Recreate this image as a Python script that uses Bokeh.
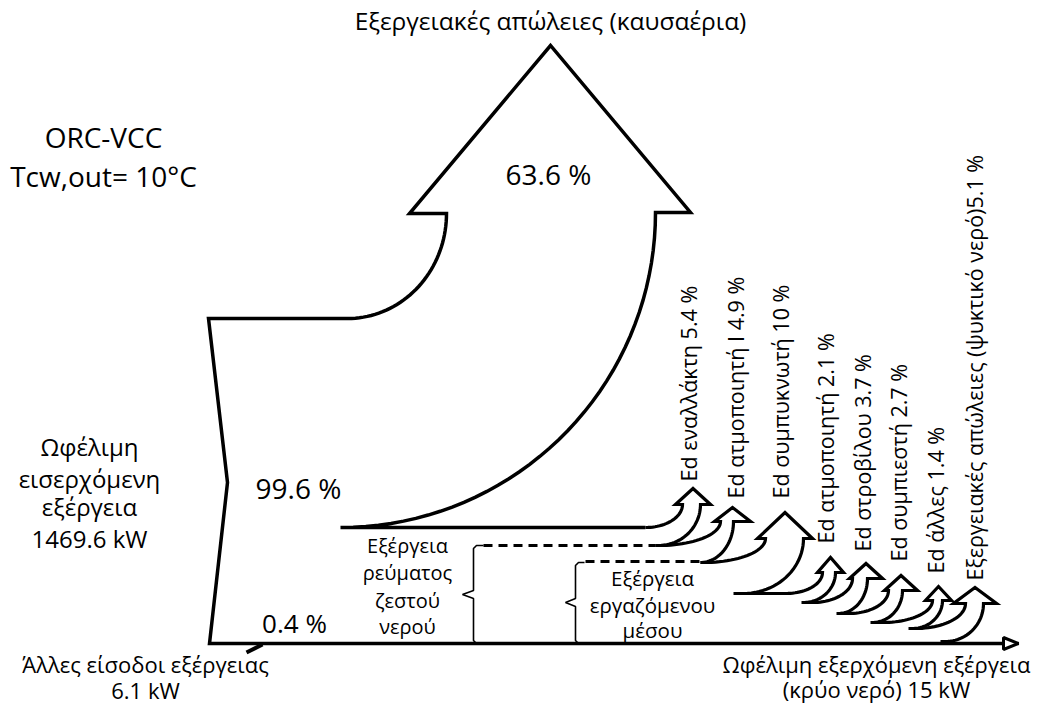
import numpy as np
from bokeh.plotting import figure
from bokeh.models import Range1d
from bokeh.core.properties import value
from bokeh.embed import file_html
from bokeh.resources import INLINE

# ---------------- data ----------------
case_name = "ORC-VCC"
case_temp = "Tcw,out= 10°C"
flue_loss_label = "Εξεργειακές απώλειες (καυσαέρια)"
flue_loss_pct = 63.6
useful_in_pct = 99.6
other_in_pct = 0.4
useful_in_kw = 1469.6
other_in_kw = 6.1
useful_out_kw = 15
loss_labels = ["Ed εναλλάκτη", "Ed ατμοποιητή I", "Ed συμπυκνωτή", "Ed ατμοποιητή",
               "Ed στροβίλου", "Ed συμπιεστή", "Ed άλλες",
               "Εξεργειακές απώλειες (ψυκτικό νερό)"]
loss_pct = [5.4, 4.9, 10, 2.1, 3.7, 2.7, 1.4, 5.1]
loss_sep = [" ", " ", " ", " ", " ", " ", " ", ""]
hot_water_label = ["Εξέργεια", "ρεύματος", "ζεστού", "νερού"]
working_label = ["Εξέργεια", "εργαζόμενου", "μέσου"]

# ---------------- layout (picture pixel coordinates, y downward) ----------------
FW, FH = 1033, 704
FONT = "Open Sans"
TOFF = 9  # baseline correction for text placement

ar_top_left = [645, 655, 700, 743, 803, 838, 872, 912]
ar_y_top    = [527, 545, 562, 593, 602, 613, 622, 628]
ar_out0     = [645, 658, 703, 785, 812, 848, 882, 915]
ar_xl       = [682, 720, 765, 822, 852, 888, 932, 965]
ar_xr       = [700, 733, 803, 835, 867, 902, 942, 983]
ar_in0      = [658, 700, 743, 803, 838, 872, 912, 945]
ar_y_bot    = [545, 562, 593, 602, 613, 622, 628, 641]
ar_bot_left = [655, 700, 733, 801, 836, 870, 908, 940]
ar_yb       = [504, 521, 538, 572, 578, 590, 600, 603]
ar_hl       = [675, 714, 757, 817, 849, 884, 925, 953]
ar_hr       = [710, 750, 812, 843, 882, 917, 951, 996]
ar_apex     = [488, 507, 512, 557, 563, 575, 586, 587]

lab_x = [697, 744, 789, 834, 871, 907, 944, 983]
lab_y = [481, 498, 498, 543, 551, 561, 573, 580]


def fy(v):
    return [FH - t for t in v]


def arc(cx, cy, rx, ry, t0, t1, n=40):
    t = np.linspace(t0, t1, n)
    return list(cx + rx * np.cos(t)), list(cy + ry * np.sin(t))


p = figure(width=FW, height=FH, x_range=Range1d(0, FW), y_range=Range1d(0, FH),
           output_backend="svg", toolbar_location=None, min_border=0,
           x_axis_location=None, y_axis_location=None)
p.grid.visible = False
p.outline_line_color = None
p.background_fill_color = "white"

LW = 3.5

# main outline
xs, ys = [645, 340], [527, 527]
ax, ay = arc(340, 212, 315, 315, np.pi / 2, 0)
xs += ax; ys += ay
xs += [690, 550, 409, 446]; ys += [212, 45, 213, 213]
ax, ay = arc(347, 213, 99, 105, 0, np.pi / 2)
xs += ax; ys += ay
xs += [208, 227, 209, 1003]; ys += [318, 482, 643, 643]
p.line(xs, fy(ys), line_color="black", line_width=LW, line_join="miter")

# output arrow head
p.patch([1003, 1018, 1003], fy([637, 643, 649]), fill_color="white",
        line_color="black", line_width=3)

# small input tick
p.line([246, 262], fy([652, 644]), line_color="black", line_width=4)

# small curved loss arrows
mx, my = [], []
for i in range(len(loss_pct)):
    xs = [ar_top_left[i], ar_out0[i]]
    ys = [ar_y_top[i], ar_y_top[i]]
    ax, ay = arc(ar_out0[i], ar_yb[i], ar_xl[i] - ar_out0[i], ar_y_top[i] - ar_yb[i],
                 np.pi / 2, 0, 25)
    xs += ax; ys += ay
    apx = (ar_hl[i] + ar_hr[i]) / 2
    xs += [ar_hl[i], apx, ar_hr[i], ar_xr[i]]
    ys += [ar_yb[i], ar_apex[i], ar_yb[i], ar_yb[i]]
    ax, ay = arc(ar_in0[i], ar_yb[i], ar_xr[i] - ar_in0[i], ar_y_bot[i] - ar_yb[i],
                 0, np.pi / 2, 25)
    xs += ax; ys += ay
    xs += [ar_bot_left[i]]; ys += [ar_y_bot[i]]
    mx.append(xs); my.append(fy(ys))
p.multi_line(mx, my, line_color="black", line_width=3.2, line_join="miter")

# dashed lines
p.multi_line([[483, 655], [585, 700]], [fy([545, 545]), fy([561, 561])],
             line_color="black", line_width=3, line_dash="9 6")

# braces
p.line([483, 476, 473, 473, 462, 473, 473, 476, 485],
       fy([545, 545, 548, 590, 594, 598, 640, 643, 643]), line_color="black", line_width=1.6)
p.line([584, 578, 575, 575, 565, 575, 575, 578, 586],
       fy([562, 562, 565, 598, 602, 606, 640, 643, 643]), line_color="black", line_width=1.6)


def txt(x, y, t, size, align="center", angle=0.0):
    if angle:
        x = [v - TOFF for v in x]
    else:
        y = [v - TOFF for v in y]
    p.text(x=x, y=fy(y), text=t, text_font=value(FONT), text_font_size=size,
           text_align=align, text_baseline="alphabetic", text_color="black", angle=angle)


txt([550], [29], [flue_loss_label], "24.5px")
txt([548], [182], [f"{flue_loss_pct} %"], "28px")
txt([103, 103], [145, 184], [case_name, case_temp], "28px")
txt([298], [496], [f"{useful_in_pct} %"], "28px")
txt([294], [631], [f"{other_in_pct} %"], "26px")
txt([89, 89, 89, 89], [455, 487, 515, 547],
    ["Ωφέλιμη", "εισερχόμενη", "εξέργεια", f"{useful_in_kw} kW"], "24px")
txt([145, 145], [672, 698], ["Άλλες είσοδοι εξέργειας", f"{other_in_kw} kW"], "22px")
txt([876, 876], [672, 697], ["Ωφέλιμη εξερχόμενη εξέργεια", f"(κρύο νερό) {useful_out_kw} kW"], "22px")
txt([407] * 4, [554, 581, 609, 635], hot_water_label, "20px")
txt([652] * 3, [586, 613, 638], working_label, "20.5px")

vlabels = [f"{l}{s}{v} %" for l, s, v in zip(loss_labels, loss_sep, loss_pct)]
txt(lab_x, lab_y, vlabels, "21.5px", align="left", angle=np.pi / 2)

open("out.html", "w").write(file_html(p, INLINE))
